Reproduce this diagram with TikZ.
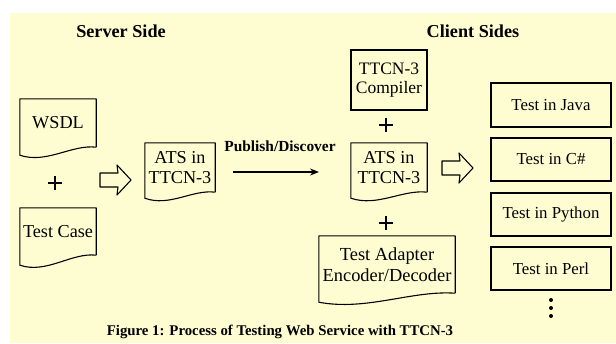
\documentclass[tikz,border=0pt]{standalone}
\usepackage{fontspec}
\setmainfont{Liberation Serif}
\usetikzlibrary{calc,arrows.meta}
\definecolor{bgyellow}{RGB}{254,253,210}
\newcommand\docpath[2]{%
  \draw[docline] (#1.south east) -- (#1.north east) -- (#1.north west)
    -- ($(#1.south west)+(0pt,-#2)$)
    .. controls ($(#1.south west)!0.35!(#1.south east)+(0pt,-#2-9pt)$)
       and ($(#1.south west)!0.68!(#1.south east)+(0pt,3pt)$) .. (#1.south east);}
\newcommand\hollowarrow[2]{% left x, centre y
  \draw[docline] (#1,#2-7) -- (#1+18,#2-7) -- (#1+17,#2-15) -- (#1+31,#2)
    -- (#1+17,#2+15) -- (#1+18,#2+7) -- (#1,#2+7) -- cycle;}
\begin{document}
\begin{tikzpicture}[x=1pt,y=-1pt,
  docline/.style={line width=1.1pt,line join=round},
  docnode/.style={inner sep=0pt,align=center,font=\fontsize{18.2}{20}\selectfont},
  plainbox/.style={draw,line width=1.1pt,inner sep=0pt,align=center},
  langbox/.style={plainbox,minimum width=120pt,font=\fontsize{16.8}{18}\selectfont},
  heading/.style={font=\fontsize{18.2}{20}\selectfont\bfseries},
  plusline/.style={line width=1.6pt},
  pubarrow/.style={line width=1.4pt,-{Stealth[length=9pt,width=7pt]}}]
\useasboundingbox (0,0) rectangle (616,343);
\fill[bgyellow] (10,13) rectangle (616,343);

% headings
\node[heading] (server) at (121,31) {Server Side};
\node[heading] (client) at (473,31) {Client Sides};

% server side documents
\node[docnode,minimum width=76pt,minimum height=48pt] (wsdl) at (58,123) {WSDL};
\docpath{wsdl}{8pt}
\node[docnode,minimum width=76pt,minimum height=47pt] (tcase) at (58,231.5) {Test Case};
\docpath{tcase}{10pt}
\draw[plusline] (55,176) -- (55,190) (48,183) -- (62,183);

\hollowarrow{100}{180}

\node[docnode,minimum width=70pt,minimum height=49pt] (atsl) at (180,167.5) {ATS in\\TTCN-3};
\docpath{atsl}{6pt}

% publish / discover
\coordinate (pubstart) at (233,172);
\coordinate (pubend) at (319,172);
\draw[pubarrow] (pubstart) -- (pubend);
\node[font=\fontsize{15.4}{17}\selectfont\bfseries] (publbl) at (280,146) {Publish/Discover};

% client side
\node[plainbox,minimum width=76pt,minimum height=60pt,font=\fontsize{17.5}{19}\selectfont] (comp) at (389,80) {TTCN-3\\Compiler};
\draw[plusline] (386,118) -- (386,132) (379,125) -- (393,125);
\node[docnode,minimum width=76pt,minimum height=49pt] (atsr) at (389,167.5) {ATS in\\TTCN-3};
\docpath{atsr}{6pt}
\draw[plusline] (386,216) -- (386,230) (379,223) -- (393,223);
\node[docnode,minimum width=136pt,minimum height=57pt,font=\fontsize{18.4}{21}\selectfont] (adapter) at (387,264.5) {Test Adapter\\Encoder/Decoder};
\docpath{adapter}{9pt}

\hollowarrow{442}{168}

% languages
\node[langbox,minimum height=44pt] (java) at (551,105) {Test in Java};
\node[langbox,minimum height=43pt] (csharp) at (551,159.5) {Test in C\#};
\node[langbox,minimum height=43pt] (python) at (551,214.5) {Test in Python};
\node[langbox,minimum height=43pt] (perl) at (551,268.5) {Test in Perl};
\fill (551,300) circle (2pt) (551,308) circle (2pt) (551,316) circle (2pt);

% caption
\node[font=\fontsize{14.8}{17}\selectfont\bfseries] (caption) at (280,332) {Figure 1: Process of Testing Web Service with TTCN-3};
\end{tikzpicture}
\end{document}
